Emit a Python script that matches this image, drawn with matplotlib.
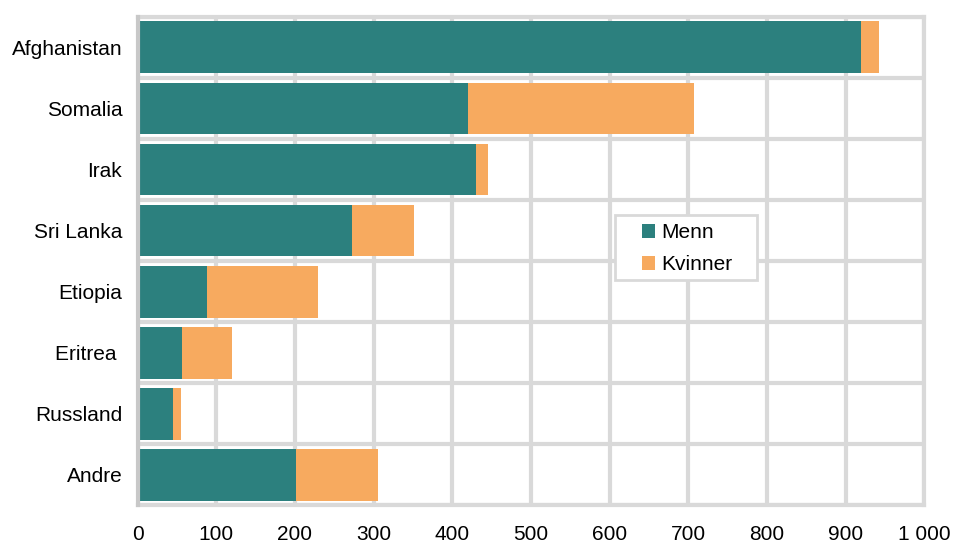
import numpy as np
import matplotlib.pyplot as plt
from matplotlib.patches import Rectangle

plt.rcParams['font.family'] = ['Liberation Sans', 'DejaVu Sans']

countries = ["Afghanistan", "Somalia", "Irak", "Sri Lanka", "Etiopia", "Eritrea ", "Russland", "Andre"]
menn = [920, 420, 430, 273, 88, 56, 45, 202]
kvinner = [22, 287, 15, 78, 141, 64, 10, 104]
xticks = [0, 100, 200, 300, 400, 500, 600, 700, 800, 900, 1000]
xlabels = ["0", "100", "200", "300", "400", "500", "600", "700", "800", "900", "1 000"]

teal = "#2C807E"
orange = "#F7AA5F"
grid = "#D9D9D9"
fs = 15

fig = plt.figure(figsize=(9.55, 5.45), dpi=100)
ax = fig.add_axes([0.144, 0.073, 0.824, 0.896])

y = np.arange(len(countries))
ax.barh(y, menn, height=0.85, color=teal, label="Menn", zorder=3)
ax.barh(y, kvinner, left=menn, height=0.85, color=orange, label="Kvinner", zorder=3)

ax.set_xlim(0, 1000)
ax.set_ylim(len(countries) - 0.5, -0.5)
ax.set_xticks(xticks)
ax.set_xticklabels(xlabels, fontsize=fs)
ax.set_yticks(y)
ax.set_yticklabels(countries, fontsize=fs)
ax.set_yticks(np.arange(len(countries) + 1) - 0.5, minor=True)
ax.tick_params(axis='both', which='both', length=0)
ax.tick_params(axis='y', pad=11)
ax.tick_params(axis='x', pad=14)

ax.grid(axis='x', which='major', color=grid, linewidth=3, zorder=1)
ax.grid(axis='y', which='minor', color=grid, linewidth=3, zorder=1)
ax.grid(axis='y', which='major', visible=False)
for s in ax.spines.values():
    s.set_color(grid)
    s.set_linewidth(3)
ax.spines['left'].set_color("#C8C8C8")
ax.spines['left'].set_zorder(4)

# legend frame drawn separately (box is wider than the default legend)
W, H = 955.0, 545.0
frame = Rectangle((615 / W, 1 - 280 / H), 142 / W, 65 / H, transform=fig.transFigure,
                  facecolor="white", edgecolor=grid, linewidth=2, zorder=5)
fig.patches.append(frame)

leg = fig.legend(*ax.get_legend_handles_labels(), loc="upper left",
                 bbox_to_anchor=(641.5 / W, 1 - 223 / H), borderaxespad=0, borderpad=0,
                 fontsize=fs, frameon=False, handlelength=0.65, handleheight=0.65,
                 handletextpad=0.3, labelspacing=0.62)
leg.set_zorder(6)

fig.savefig("out.png", dpi=100)
